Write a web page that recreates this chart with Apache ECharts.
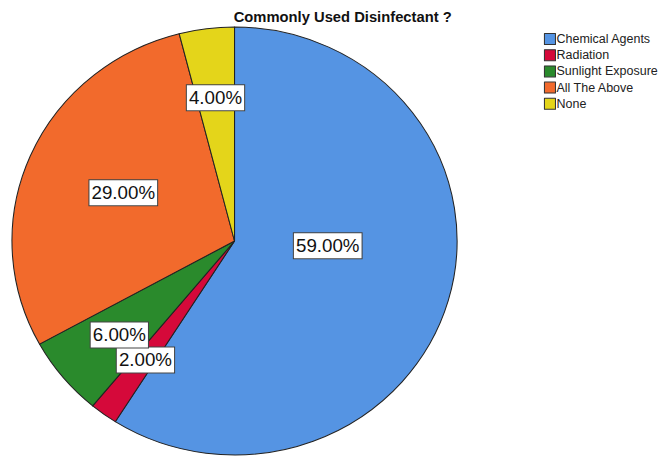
<!DOCTYPE html>
<html>
<head>
<meta charset="utf-8">
<script src="https://cdn.jsdelivr.net/npm/echarts@6/dist/echarts.min.js"></script>
<style>
  html, body { margin: 0; padding: 0; background: #fff; overflow: hidden; }
  #wrap { width: 658px; height: 458px; overflow: hidden; }
  /* the pie is drawn slightly wider than tall */
  #chart { width: 633px; height: 458px; transform: scaleX(1.04); transform-origin: 0 0; }
</style>
</head>
<body>
<div id="wrap"><div id="chart"></div></div>
<script>
// Responses to "Commonly Used Disinfectant ?" (percent of respondents)
const categories = ['Chemical Agents', 'Radiation', 'Sunlight Exposure', 'All The Above', 'None'];
const percents = [59, 2, 6, 29, 4];

// Slice fill colours, in category order
const sliceColors = ['#5594E3', '#D5093A', '#2A8A2C', '#F26A2C', '#E4D51A'];
// Nudges applied to each inside label (px), in category order
const labelOffsets = [[-16, -26], [-21, 30], [-26, 24], [-6, -4.5], [-4.5, -34]];

const chart = echarts.init(document.getElementById('chart'), null, { renderer: 'svg' });

chart.setOption({
  animation: false,
  backgroundColor: '#ffffff',
  title: {
    text: 'Commonly Used Disinfectant ?',
    left: 324.5,
    textAlign: 'center',
    top: 5,
    textStyle: { fontFamily: 'Liberation Sans, Arial, sans-serif', fontSize: 14.2, fontWeight: 'bold', color: '#111' }
  },
  legend: {
    orient: 'vertical',
    left: 518,
    top: 28,
    itemWidth: 10.6,
    itemHeight: 11,
    itemGap: 4.2,
    icon: 'rect',
    itemStyle: { borderColor: '#333', borderWidth: 1 },
    textStyle: { fontFamily: 'Liberation Sans, Arial, sans-serif', fontSize: 12, lineHeight: 11, color: '#222', padding: [0, 0, 0, -4] },
    data: categories
  },
  series: [{
    type: 'pie',
    center: [225.5, 241],
    radius: 214,
    startAngle: 90,
    clockwise: true,
    avoidLabelOverlap: false,
    labelLayout: { hideOverlap: false },
    itemStyle: { borderColor: '#222', borderWidth: 1 },
    label: {
      show: true,
      position: 'inside',
      formatter: p => p.value.toFixed(2) + '%',
      fontFamily: 'Liberation Sans, Arial, sans-serif',
      fontSize: 18,
      lineHeight: 18,
      color: '#111',
      backgroundColor: '#ffffff',
      borderColor: '#444',
      borderWidth: 1,
      padding: [4, 2, 3, 2]
    },
    labelLine: { show: false },
    emphasis: { disabled: true },
    data: categories.map((name, i) => ({
      name: name,
      value: percents[i],
      itemStyle: { color: sliceColors[i] },
      label: { offset: labelOffsets[i] }
    }))
  }]
});
</script>
</body>
</html>
